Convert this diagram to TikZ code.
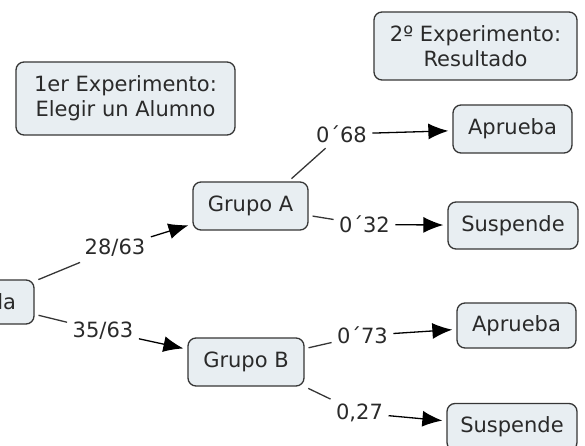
\documentclass[tikz,border=0pt]{standalone}
\usepackage{fontspec}
\setmainfont{DejaVu Sans}
\usetikzlibrary{arrows.meta}
\definecolor{boxfill}{HTML}{E8EEF2}
\definecolor{boxline}{HTML}{363636}
\definecolor{txt}{HTML}{2A2A2A}

\begin{document}
\begin{tikzpicture}[x=1pt, y=-1pt, >={Latex[length=20pt, width=16pt]}, line width=1.3pt,
    box/.style={draw=boxline, fill=boxfill, rounded corners=8pt, text=txt, align=center,
                font=\fontsize{21}{25}\selectfont, inner sep=0pt},
    lbl/.style={text=txt, font=\fontsize{21}{25}\selectfont, inner sep=5pt}]
            \clip (0, 0) rectangle (585, 446);
            \node[box, minimum width=100pt, minimum height=44pt] (sal) at (-16, 302) {Salida};
            \node[box, minimum width=219pt, minimum height=73pt] (e1) at (125.5, 98.5) {1er Experimento:\\Elegir un Alumno};
            \node[box, minimum width=203pt, minimum height=68pt] (e2) at (475.5, 46) {2º Experimento:\\Resultado};
            \node[box, minimum width=115pt, minimum height=48pt] (ga) at (250.5, 206) {Grupo A};
            \node[box, minimum width=116pt, minimum height=48pt] (gb) at (246, 362) {Grupo B};
            \node[box, minimum width=119pt, minimum height=48pt] (ap1) at (512.5, 129) {Aprueba};
            \node[box, minimum width=130pt, minimum height=47pt] (su1) at (513, 225.5) {Suspende};
            \node[box, minimum width=119pt, minimum height=45pt] (ap2) at (516.5, 325.5) {Aprueba};
            \node[box, minimum width=130pt, minimum height=47pt] (su2) at (512, 427) {Suspende};
            \node[lbl] (p28) at (115, 248) {28/63};
            \node[lbl] (p35) at (103, 331) {35/63};
            \node[lbl] (p68) at (341.5, 134) {0´68};
            \node[lbl] (p32) at (364.5, 224.5) {0´32};
            \node[lbl] (p73) at (362.5, 335.5) {0´73};
            \node[lbl] (p27) at (359.5, 413) {0,27};
            \path[draw=boxline, shorten <=4pt]
                (sal) edge (p28)
                (sal) edge (p35)
                (ga.33) edge (p68)
                (ga) edge (p32)
                (gb) edge (p73)
                (gb.south east) edge (p27)
            ;
            \path[->, draw=black, shorten >=4pt]
                (p28) edge (ga)
                (p35) edge (gb)
                (p68) edge (ap1)
                (p32) edge (su1)
                (p73) edge (ap2)
                (p27) edge (su2)
            ;
        \end{tikzpicture}
\end{document}
